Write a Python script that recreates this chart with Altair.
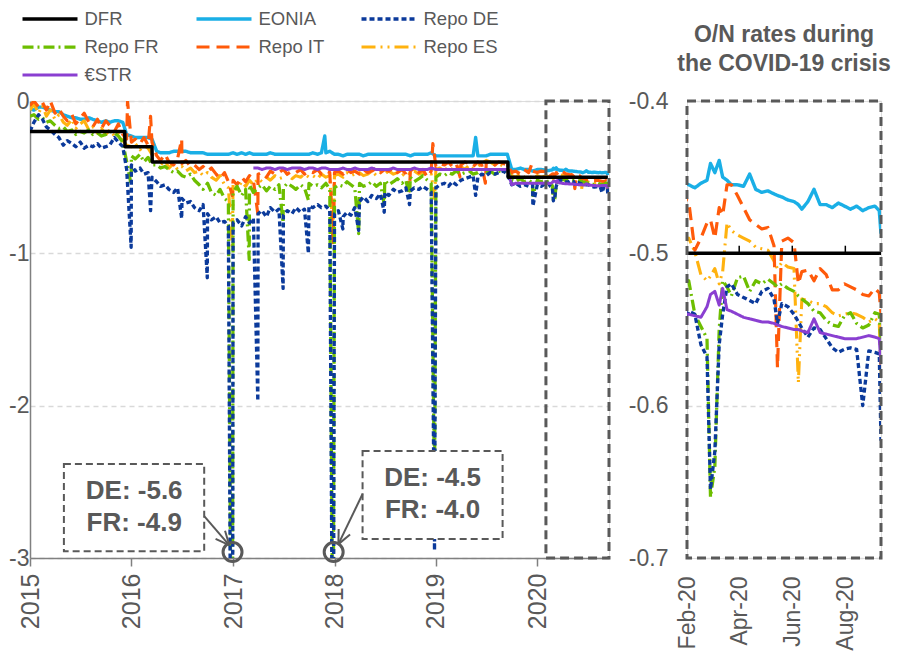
import altair as alt
import pandas as pd

FONT = "Liberation Sans"
GRAY = "#595959"
AXIS_GRAY = "#808080"

SERIES = ["DFR", "EONIA", "Repo DE", "Repo FR", "Repo IT", "Repo ES", "€STR"]
COLORS = ["#000000", "#1AAFE6", "#0B3A9B", "#6DBE00", "#FF5A0A", "#FFB20F", "#8A3FD1"]
DASHES = [[1, 0], [1, 0], [5, 3], [11, 4, 2, 4], [13, 7], [14, 5, 2, 5, 2, 5], [1, 0]]
WIDTHS = [3.5, 3, 3, 3, 3, 3, 3]
DRAW_ORDER = ["EONIA", "Repo ES", "Repo IT", "Repo FR", "Repo DE", "€STR", "DFR"]

# ---------------- data ----------------
# semi-monthly grid (1st and 15th) Jan 2015 - Jan 2020
base_dates = pd.date_range("2015-01-01", "2020-01-15", freq="SMS")

# weekly-ish points during the COVID-19 period
crisis_dates = ["2020-02-03", "2020-02-10", "2020-02-17", "2020-02-24", "2020-02-28",
                "2020-03-04", "2020-03-09", "2020-03-13", "2020-03-18", "2020-03-23", "2020-03-30",
                "2020-04-06", "2020-04-13", "2020-04-20", "2020-04-27",
                "2020-05-04", "2020-05-11", "2020-05-15", "2020-05-20", "2020-05-27",
                "2020-06-03", "2020-06-08", "2020-06-12", "2020-06-19", "2020-06-26",
                "2020-07-03", "2020-07-10", "2020-07-17", "2020-07-24", "2020-07-31",
                "2020-08-07", "2020-08-14", "2020-08-21", "2020-08-28",
                "2020-09-04", "2020-09-09", "2020-09-11"]

dfr_dates = ["2015-01-01", "2015-12-08", "2015-12-09", "2016-03-15", "2016-03-16",
             "2019-09-17", "2019-09-18", "2020-09-11"]
dfr_vals = [-0.20, -0.20, -0.30, -0.30, -0.40, -0.40, -0.50, -0.50]

eonia_base = [
    -0.05, -0.06, -0.04, -0.04, -0.05, -0.06, -0.07, -0.07, -0.09, -0.10, -0.11, -0.11,
    -0.12, -0.12, -0.11, -0.12, -0.13, -0.14, -0.13, -0.14, -0.13, -0.13, -0.14, -0.22,
    -0.23, -0.24, -0.24, -0.24, -0.24, -0.25, -0.33, -0.34, -0.34, -0.34, -0.33, -0.33,
    -0.33, -0.33, -0.34, -0.34, -0.34, -0.34, -0.35, -0.35, -0.35, -0.35, -0.35, -0.35,
    -0.34, -0.35, -0.34, -0.35, -0.34, -0.35, -0.35, -0.35, -0.35, -0.34, -0.35, -0.35,
    -0.35, -0.35, -0.35, -0.35, -0.35, -0.35, -0.35, -0.34, -0.35, -0.34, -0.34, -0.33,
    -0.35, -0.35, -0.36, -0.35, -0.35, -0.35, -0.35, -0.36, -0.35, -0.35, -0.35, -0.35,
    -0.35, -0.35, -0.35, -0.35, -0.35, -0.35, -0.36, -0.35, -0.35, -0.35, -0.35, -0.34,
    -0.36, -0.36, -0.36, -0.36, -0.36, -0.36, -0.36, -0.36, -0.36, -0.36, -0.36, -0.36,
    -0.36, -0.35, -0.35, -0.35, -0.35, -0.35, -0.45, -0.45, -0.44, -0.45, -0.45, -0.46,
    -0.45, -0.45]
eonia_crisis = [
    -0.455, -0.457, -0.454, -0.452, -0.441,
    -0.447, -0.439, -0.450, -0.452, -0.455, -0.455,
    -0.456, -0.448, -0.458, -0.460,
    -0.459, -0.461, -0.462, -0.463, -0.465,
    -0.466, -0.468, -0.471, -0.466, -0.458,
    -0.468, -0.468, -0.470, -0.467, -0.469,
    -0.471, -0.469, -0.472, -0.470,
    -0.469, -0.472, -0.487]
eonia_spike_dates = ["2017-11-27", "2019-05-24"]
eonia_spike_vals = [-0.23, -0.24]

de_base = [
    -0.20, -0.14, -0.09, -0.12, -0.17, -0.19, -0.22, -0.24, -0.29, -0.26, -0.28, -0.30,
    -0.27, -0.31, -0.29, -0.30, -0.28, -0.31, -0.30, -0.29, -0.24, -0.27, -0.30, -0.45,
    -0.42, -0.46, -0.44, -0.48, -0.47, -0.50, -0.53, -0.56, -0.55, -0.58, -0.60, -0.57,
    -0.64, -0.67, -0.66, -0.70, -0.72, -0.68, -0.74, -0.78, -0.76, -0.80, -0.79, -0.82,
    -0.80, -0.78, -0.82, -0.76, -0.80, -0.77, -0.74, -0.72, -0.76, -0.70, -0.73, -0.71,
    -0.75, -0.72, -0.74, -0.70, -0.73, -0.71, -0.69, -0.70, -0.68, -0.70, -0.69, -0.72,
    -0.74, -0.72, -0.76, -0.73, -0.75, -0.70, -0.66, -0.63, -0.66, -0.62, -0.64, -0.61,
    -0.60, -0.62, -0.58, -0.60, -0.59, -0.57, -0.59, -0.57, -0.58, -0.56, -0.58, -0.60,
    -0.57, -0.55, -0.54, -0.56, -0.53, -0.55, -0.52, -0.51, -0.50, -0.49, -0.50, -0.48,
    -0.49, -0.47, -0.48, -0.47, -0.46, -0.48, -0.55, -0.54, -0.56, -0.55, -0.56, -0.55,
    -0.55, -0.56]
de_crisis = [
    -0.538, -0.540, -0.560, -0.568, -0.655,
    -0.630, -0.560, -0.540, -0.522, -0.520, -0.527,
    -0.529, -0.531, -0.533, -0.525,
    -0.523, -0.530, -0.546, -0.533, -0.535,
    -0.540, -0.545, -0.549, -0.555, -0.549,
    -0.550, -0.556, -0.562, -0.565, -0.563,
    -0.562, -0.563, -0.600, -0.564,
    -0.565, -0.566, -0.623]
de_spike_dates = ["2015-12-31", "2016-03-10", "2016-06-30", "2016-09-30", "2016-12-29",
                  "2017-03-31", "2017-06-30", "2017-09-29", "2017-12-27", "2018-01-31",
                  "2018-03-29", "2018-06-29", "2018-09-28", "2018-12-27", "2019-05-24",
                  "2019-12-16"]
de_spike_vals = [-0.96, -0.72, -0.77, -1.16, -5.6, -1.97, -1.23, -1.00, -4.5, -0.84,
                 -0.85, -0.73, -0.68, -2.95, -0.62, -0.69]

fr_base = [
    -0.10, -0.09, -0.12, -0.11, -0.14, -0.13, -0.16, -0.18, -0.17, -0.20, -0.19, -0.22,
    -0.20, -0.21, -0.19, -0.22, -0.21, -0.23, -0.22, -0.20, -0.21, -0.23, -0.27, -0.40,
    -0.36, -0.38, -0.35, -0.40, -0.37, -0.42, -0.42, -0.44, -0.43, -0.45, -0.47, -0.46,
    -0.49, -0.50, -0.48, -0.52, -0.55, -0.58, -0.54, -0.60, -0.62, -0.58, -0.64, -0.66,
    -0.60, -0.56, -0.62, -0.58, -0.55, -0.60, -0.57, -0.55, -0.59, -0.56, -0.58, -0.55,
    -0.57, -0.54, -0.56, -0.58, -0.55, -0.57, -0.54, -0.56, -0.55, -0.57, -0.54, -0.58,
    -0.57, -0.55, -0.56, -0.53, -0.55, -0.57, -0.54, -0.56, -0.55, -0.53, -0.56, -0.54,
    -0.52, -0.55, -0.53, -0.51, -0.54, -0.52, -0.50, -0.53, -0.51, -0.49, -0.52, -0.54,
    -0.50, -0.48, -0.49, -0.47, -0.48, -0.46, -0.48, -0.47, -0.46, -0.48, -0.47, -0.45,
    -0.47, -0.46, -0.48, -0.46, -0.47, -0.45, -0.52, -0.53, -0.51, -0.53, -0.52, -0.54,
    -0.52, -0.53]
fr_crisis = [
    -0.518, -0.540, -0.548, -0.556, -0.660,
    -0.640, -0.550, -0.518, -0.522, -0.528, -0.516,
    -0.515, -0.525, -0.518, -0.520,
    -0.517, -0.520, -0.522, -0.520, -0.523,
    -0.525, -0.528, -0.530, -0.533, -0.538,
    -0.539, -0.544, -0.547, -0.548, -0.541,
    -0.539, -0.546, -0.549, -0.547,
    -0.539, -0.540, -0.560]
fr_spike_dates = ["2015-12-31", "2016-12-29", "2017-02-28", "2017-06-30", "2017-09-29",
                  "2017-12-27", "2018-03-29", "2018-06-29", "2018-09-28", "2018-12-27",
                  "2019-12-16"]
fr_spike_vals = [-0.55, -4.9, -1.04, -0.80, -0.65, -4.0, -0.87, -0.68, -0.63, -2.6, -0.62]

it_base = [
    -0.03, 0.00, -0.04, -0.01, -0.06, 0.00, -0.08, -0.05, -0.10, -0.13, -0.09, -0.15,
    -0.11, -0.08, -0.14, -0.17, -0.12, -0.18, -0.13, -0.16, -0.20, -0.15, -0.22, -0.25,
    -0.27, -0.25, -0.28, -0.24, -0.29, -0.27, -0.36, -0.39, -0.35, -0.40, -0.42, -0.38,
    -0.41, -0.39, -0.43, -0.42, -0.45, -0.43, -0.46, -0.44, -0.48, -0.51, -0.47, -0.53,
    -0.52, -0.55, -0.50, -0.53, -0.49, -0.52, -0.48, -0.47, -0.50, -0.46, -0.48, -0.47,
    -0.45, -0.48, -0.46, -0.47, -0.45, -0.48, -0.46, -0.47, -0.45, -0.48, -0.46, -0.47,
    -0.47, -0.46, -0.48, -0.45, -0.47, -0.46, -0.48, -0.45, -0.47, -0.46, -0.44, -0.47,
    -0.45, -0.46, -0.44, -0.47, -0.45, -0.48, -0.46, -0.44, -0.47, -0.45, -0.50, -0.46,
    -0.43, -0.41, -0.42, -0.40, -0.43, -0.41, -0.42, -0.40, -0.41, -0.43, -0.40, -0.42,
    -0.41, -0.39, -0.42, -0.40, -0.41, -0.42, -0.47, -0.46, -0.48, -0.45, -0.47, -0.46,
    -0.47, -0.46]
it_crisis = [
    -0.466, -0.498, -0.490, -0.480, -0.478,
    -0.490, -0.470, -0.475, -0.455, -0.455, -0.462,
    -0.470, -0.478, -0.481, -0.484,
    -0.483, -0.495, -0.575, -0.492, -0.490,
    -0.493, -0.520, -0.512, -0.511, -0.518,
    -0.510, -0.514, -0.524, -0.524, -0.520,
    -0.522, -0.524, -0.527, -0.528,
    -0.523, -0.526, -0.540]
it_spike_dates = ["2015-12-18", "2016-03-10", "2016-06-30", "2016-12-29", "2017-03-31",
                  "2017-12-27", "2018-09-28", "2018-12-21", "2019-03-29", "2019-06-28",
                  "2019-12-11"]
it_spike_vals = [0.00, -0.10, -0.25, -0.62, -0.74, -0.93, -0.59, -0.28, -0.50, -0.54, -0.42]

es_base = [
    -0.06, -0.02, -0.08, -0.03, -0.10, -0.06, -0.12, -0.09, -0.14, -0.16, -0.12, -0.18,
    -0.15, -0.13, -0.19, -0.17, -0.21, -0.18, -0.22, -0.19, -0.23, -0.21, -0.26, -0.29,
    -0.30, -0.28, -0.32, -0.29, -0.31, -0.35, -0.40, -0.42, -0.39, -0.44, -0.41, -0.45,
    -0.43, -0.46, -0.44, -0.47, -0.46, -0.49, -0.47, -0.50, -0.52, -0.49, -0.55, -0.57,
    -0.55, -0.58, -0.53, -0.56, -0.52, -0.55, -0.51, -0.53, -0.50, -0.52, -0.49, -0.51,
    -0.50, -0.48, -0.51, -0.49, -0.50, -0.48, -0.50, -0.49, -0.51, -0.48, -0.50, -0.49,
    -0.49, -0.48, -0.50, -0.47, -0.49, -0.48, -0.47, -0.49, -0.48, -0.46, -0.49, -0.47,
    -0.48, -0.46, -0.48, -0.47, -0.49, -0.47, -0.48, -0.46, -0.48, -0.47, -0.49, -0.48,
    -0.45, -0.44, -0.46, -0.43, -0.45, -0.44, -0.43, -0.45, -0.42, -0.44, -0.43, -0.41,
    -0.39, -0.40, -0.42, -0.41, -0.43, -0.42, -0.49, -0.50, -0.48, -0.50, -0.49, -0.51,
    -0.49, -0.50]
es_crisis = [
    -0.490, -0.499, -0.514, -0.518, -0.515,
    -0.510, -0.520, -0.512, -0.480, -0.485, -0.488,
    -0.490, -0.492, -0.496, -0.497,
    -0.498, -0.505, -0.510, -0.506, -0.509,
    -0.510, -0.585, -0.530, -0.531, -0.533,
    -0.533, -0.535, -0.539, -0.541, -0.540,
    -0.539, -0.540, -0.542, -0.545,
    -0.543, -0.545, -0.580]
es_spike_dates = ["2016-12-29", "2017-12-27", "2018-12-27"]
es_spike_vals = [-0.95, -0.89, -0.64]

# €STR (pre-€STR) starts mid-March 2017 = grid index 53
estr_start = 53
estr_base = [
    -0.44, -0.44, -0.45, -0.44, -0.44, -0.45, -0.44, -0.44, -0.45, -0.44, -0.44, -0.44,
    -0.45, -0.44, -0.44, -0.45, -0.44, -0.44, -0.45,
    -0.45, -0.45, -0.44, -0.45, -0.45, -0.44, -0.45, -0.45, -0.45, -0.44, -0.45, -0.45,
    -0.45, -0.45, -0.44, -0.45, -0.45, -0.45, -0.45, -0.44, -0.45, -0.45, -0.45, -0.44,
    -0.45, -0.45, -0.45, -0.45, -0.45, -0.45, -0.45, -0.45, -0.45, -0.45, -0.45, -0.45,
    -0.45, -0.45, -0.45, -0.45, -0.45, -0.45, -0.55, -0.54, -0.54, -0.54, -0.54, -0.54,
    -0.54, -0.54]
estr_crisis = [
    -0.540, -0.541, -0.542, -0.535, -0.527,
    -0.525, -0.534, -0.523, -0.537, -0.538, -0.540,
    -0.542, -0.543, -0.544, -0.545,
    -0.545, -0.546, -0.547, -0.548, -0.549,
    -0.550, -0.550, -0.551, -0.552, -0.543,
    -0.552, -0.553, -0.554, -0.555, -0.556,
    -0.556, -0.556, -0.555, -0.554,
    -0.555, -0.556, -0.573]

# annotations (left panel)
ann_box_x = ["2015-05-03", "2018-04-12"]
ann_box_x2 = ["2016-09-19", "2019-08-29"]
ann_box_y = [-2.383, -2.298]
ann_box_y2 = [-2.955, -2.876]
ann_text = ["DE: -5.6", "FR: -4.9", "DE: -4.5", "FR: -4.0"]
ann_text_x = ["2016-01-11", "2016-01-11", "2018-12-20", "2018-12-20"]
ann_text_y = [-2.561, -2.771, -2.475, -2.686]
circle_x = ["2016-12-30", "2017-12-29"]
circle_y = [-2.961, -2.961]
arrow_x = ["2016-09-19", "2016-12-03", "2016-10-30", "2018-04-12", "2018-02-26", "2018-01-16"]
arrow_y = [-2.725, -2.821, -2.875, -2.580, -2.846, -2.810]
arrow_x2 = ["2016-12-18", "2016-12-18", "2016-12-18", "2018-01-15", "2018-01-15", "2018-01-15"]
arrow_y2 = [-2.915, -2.915, -2.915, -2.909, -2.909, -2.909]

right_tick_months = [2, 4, 6, 8]


# ---------------- frames ----------------
def frame(name, dates, vals):
    assert len(dates) == len(vals), (name, len(dates), len(vals))
    return pd.DataFrame({"date": pd.to_datetime(list(dates)), "value": vals, "series": name})


def series(name, base, offset, crisis, sp_dates, sp_vals):
    d = list(base_dates[offset:offset + len(base)]) + list(pd.to_datetime(crisis_dates)) + list(pd.to_datetime(sp_dates))
    assert len(base) == len(base_dates) - offset, (name, len(base))
    assert len(crisis) == len(crisis_dates), (name, len(crisis))
    return frame(name, d, list(base) + list(crisis) + list(sp_vals)).sort_values("date")


frames = {
    "DFR": frame("DFR", dfr_dates, dfr_vals),
    "EONIA": series("EONIA", eonia_base, 0, eonia_crisis, eonia_spike_dates, eonia_spike_vals),
    "Repo DE": series("Repo DE", de_base, 0, de_crisis, de_spike_dates, de_spike_vals),
    "Repo FR": series("Repo FR", fr_base, 0, fr_crisis, fr_spike_dates, fr_spike_vals),
    "Repo IT": series("Repo IT", it_base, 0, it_crisis, it_spike_dates, it_spike_vals),
    "Repo ES": series("Repo ES", es_base, 0, es_crisis, es_spike_dates, es_spike_vals),
    "€STR": series("€STR", estr_base, estr_start, estr_crisis, [], []),
}
data = pd.concat([frames[n] for n in DRAW_ORDER], ignore_index=True)

box_df = pd.DataFrame({"x": pd.to_datetime(ann_box_x), "x2": pd.to_datetime(ann_box_x2),
                       "y": ann_box_y, "y2": ann_box_y2})
text_df = pd.DataFrame({"x": pd.to_datetime(ann_text_x), "y": ann_text_y, "t": ann_text})
circle_df = pd.DataFrame({"x": pd.to_datetime(circle_x), "y": circle_y})
arrow_df = pd.DataFrame({"x": pd.to_datetime(arrow_x), "y": arrow_y,
                         "x2": pd.to_datetime(arrow_x2), "y2": arrow_y2})
zoom_df = pd.DataFrame({"x": [pd.Timestamp("2020-02-01")], "x2": [pd.Timestamp("2020-09-15")],
                        "y": [0.0], "y2": [-3.0]})
rbox_df = pd.DataFrame({"x": [pd.Timestamp("2020-02-01")], "x2": [pd.Timestamp("2020-09-11")],
                        "y": [-0.4], "y2": [-0.7]})
rtick_df = pd.DataFrame({"x": [pd.Timestamp(2020, m, 1) for m in right_tick_months[1:]],
                         "y": [-0.5] * 3, "y2": [-0.495] * 3})

# ---------------- scales / encodings ----------------
color_scale = alt.Scale(domain=SERIES, range=COLORS)
dash_scale = alt.Scale(domain=SERIES, range=DASHES)
width_scale = alt.Scale(domain=SERIES, range=WIDTHS)

legend = alt.Legend(title=None, orient="none", legendX=-9.5, legendY=-92, columns=3,
                    direction="horizontal",
                    columnPadding=35, rowPadding=8, symbolType="stroke", symbolSize=3025,
                    symbolStrokeWidth=3, clipHeight=20, labelFontSize=18.5, labelColor=GRAY,
                    labelFont=FONT, labelOffset=5, padding=0, symbolOffset=0)

LEFT_W, LEFT_H = 579, 457
RIGHT_W, RIGHT_H = 194, 457

left_domain = [alt.DateTime(year=2015, month=1, date=1), alt.DateTime(year=2020, month=9, date=15)]
right_domain = [alt.DateTime(year=2020, month=2, date=1), alt.DateTime(year=2020, month=9, date=11)]


def lx(field):
    return alt.X(f"{field}:T", scale=alt.Scale(domain=left_domain),
                 axis=alt.Axis(title=None, format="%Y", tickCount="year", labelAngle=270,
                               labelFontSize=25, labelColor=GRAY, labelFont=FONT, labelPadding=7,
                               tickSize=8, tickColor=AXIS_GRAY, tickWidth=1.5,
                               domainColor=AXIS_GRAY, domainWidth=1.5, grid=False))


def ly(field):
    return alt.Y(f"{field}:Q", scale=alt.Scale(domain=[-3, 0], nice=False),
                 axis=alt.Axis(title=None, values=[-3, -2, -1, 0], format="d",
                               labelExpr="replace(datum.label, '\u2212', '-')",
                               labelFontSize=23, labelColor=GRAY, labelFont=FONT, labelPadding=1,
                               ticks=False, domainColor=AXIS_GRAY, domainWidth=1.5,
                               grid=True, gridDash=[5, 4], gridColor="#D9D9D9", gridWidth=1.5))


def rx(field):
    return alt.X(f"{field}:T", scale=alt.Scale(domain=right_domain),
                 axis=alt.Axis(title=None, format="%b-%y", labelAngle=270,
                               values=[alt.DateTime(year=2020, month=m, date=1) for m in right_tick_months],
                               labelFontSize=23, labelColor=GRAY, labelFont=FONT, labelPadding=18,
                               ticks=False, domain=False, grid=False))


def ry(field):
    return alt.Y(f"{field}:Q", scale=alt.Scale(domain=[-0.7, -0.4], nice=False),
                 axis=alt.Axis(title=None, values=[-0.7, -0.6, -0.5, -0.4], format=".1f",
                               labelExpr="replace(datum.label, '\u2212', '-')",
                               labelFontSize=23, labelColor=GRAY, labelFont=FONT, labelPadding=19,
                               ticks=False, domain=False,
                               grid=True, gridDash=[5, 4], gridColor="#D9D9D9", gridWidth=1.5))


def line_layers(xf, yf, leg):
    layers = []
    for name in DRAW_ORDER:
        layers.append(
            alt.Chart(data).transform_filter(alt.datum.series == name)
            .mark_line(clip=True, strokeJoin="round")
            .encode(x=xf("date"), y=yf("value"),
                    color=alt.Color("series:N", scale=color_scale, legend=leg),
                    strokeDash=alt.StrokeDash("series:N", scale=dash_scale, legend=leg),
                    strokeWidth=alt.StrokeWidth("series:N", scale=width_scale, legend=None))
        )
    return layers


# ---------------- left panel ----------------
zoom_box = alt.Chart(zoom_df).mark_rect(fillOpacity=0, stroke=GRAY, strokeWidth=3,
                                        strokeDash=[9, 5]).encode(
    x=lx("x"), x2="x2", y=ly("y"), y2="y2")
ann_boxes = alt.Chart(box_df).mark_rect(fill="white", stroke=GRAY, strokeWidth=2,
                                        strokeDash=[7, 4]).encode(
    x=lx("x"), x2="x2", y=ly("y"), y2="y2")
ann_texts = alt.Chart(text_df).mark_text(font=FONT, fontSize=26, fontWeight="bold", color=GRAY,
                                         align="center", baseline="middle").encode(
    x=lx("x"), y=ly("y"), text="t:N")
arrows = alt.Chart(arrow_df).mark_rule(color=GRAY, strokeWidth=2).encode(
    x=lx("x"), y=ly("y"), x2="x2", y2="y2")
circles = alt.Chart(circle_df).mark_point(shape="circle", size=360, filled=False, color=GRAY,
                                          strokeWidth=3, opacity=1).encode(x=lx("x"), y=ly("y"))

left = alt.layer(*line_layers(lx, ly, legend), zoom_box, ann_boxes, ann_texts, arrows,
                 circles).properties(width=LEFT_W, height=LEFT_H)

# ---------------- right panel ----------------
rticks = alt.Chart(rtick_df).mark_rule(color="#000000", strokeWidth=1.5).encode(
    x=rx("x"), y=ry("y"), y2="y2")
rbox = alt.Chart(rbox_df).mark_rect(fillOpacity=0, stroke=GRAY, strokeWidth=3,
                                    strokeDash=[9, 5]).encode(
    x=rx("x"), x2="x2", y=ry("y"), y2="y2")

right = alt.layer(*line_layers(rx, ry, None), rticks, rbox).properties(
    width=RIGHT_W, height=RIGHT_H,
    title=alt.TitleParams(["O/N rates during", "the COVID-19 crisis"], fontSize=23,
                          fontWeight="bold", color=GRAY, font=FONT, anchor="middle",
                          offset=14, lineHeight=29))

chart = (
    alt.hconcat(left, right, spacing=78, bounds="flush")
    .resolve_scale(color="independent", strokeDash="independent", strokeWidth="independent")
    .properties(padding={"left": 0, "top": 0, "right": 4, "bottom": 0})
    .configure_view(strokeWidth=0)
    .configure(font=FONT)
)

chart.save("out.html", embed_options={"renderer": "svg", "actions": False})
